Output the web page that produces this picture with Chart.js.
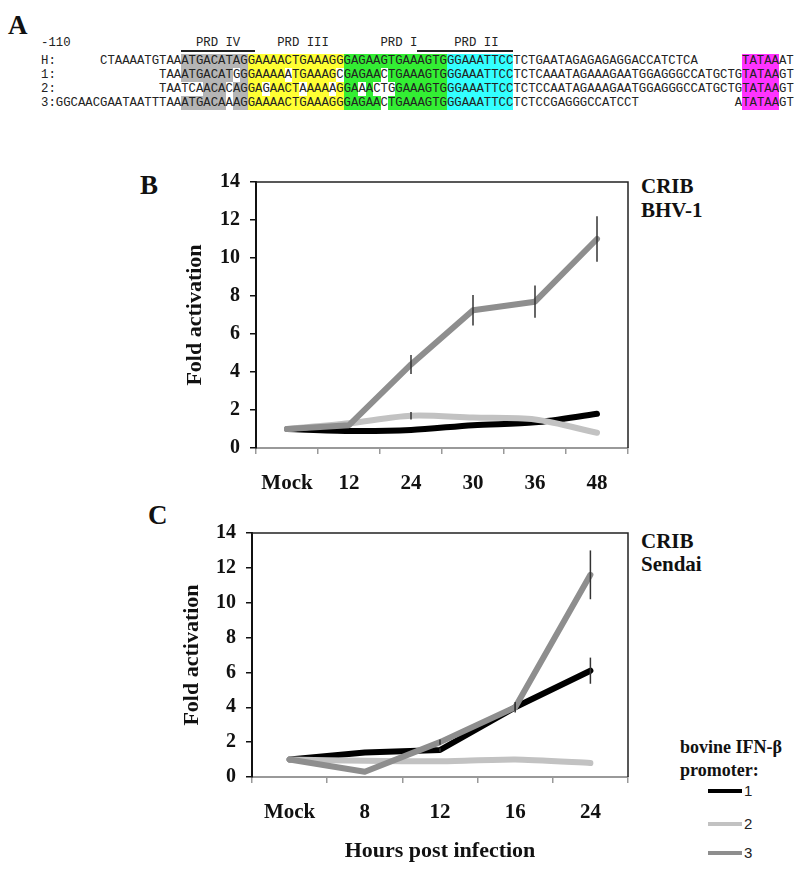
<!DOCTYPE html>
<html>
<head>
<meta charset="utf-8">
<script src="https://cdn.jsdelivr.net/npm/chart.js@4.4.1/dist/chart.umd.min.js"></script>
<style>
body { margin: 0; background: #fff; width: 800px; height: 870px; position: relative; overflow: hidden; }
canvas { position: absolute; }
.lbl { position: absolute; font-family: "Liberation Serif"; font-weight: bold; color: #111; white-space: nowrap; line-height: 1; }
.seq { position: absolute; left: 41px; height: 14px; line-height: 14px; white-space: pre; font-family: "Liberation Mono"; font-size: 12.3px; color: #222; }
.seq span { display: inline-block; height: 14px; }
.rule { position: absolute; height: 1.5px; background: #222; }
.key { position: absolute; left: 708px; width: 34px; height: 4px; }
.keytxt { position: absolute; left: 744px; font-family: "Liberation Sans"; font-size: 15px; color: #222; line-height: 1; }
</style>
</head>
<body>
<div class="lbl" style="left:8px;top:12px;font-size:27px;">A</div>
<div id="seqbox"></div>

<div class="lbl" style="left:140px;top:172px;font-size:27px;">B</div>
<div class="lbl" style="left:641px;top:176px;font-size:21px;">CRIB</div>
<div class="lbl" style="left:641px;top:200px;font-size:21px;">BHV-1</div>
<canvas id="chartB" width="500" height="338" style="left:150px;top:160px;"></canvas>

<div class="lbl" style="left:148px;top:502px;font-size:27px;">C</div>
<div class="lbl" style="left:641px;top:531px;font-size:21px;">CRIB</div>
<div class="lbl" style="left:641px;top:554px;font-size:21px;">Sendai</div>
<canvas id="chartC" width="500" height="356" style="left:150px;top:511px;"></canvas>

<div class="lbl" style="left:680px;top:738px;font-size:18px;">bovine IFN-β</div>
<div class="lbl" style="left:680px;top:761px;font-size:18px;">promoter:</div>
<div id="legend"></div>

<script>
// sequence alignment (panel A)
const seqHeader = [['-110', 0], ['PRD IV', 21], ['PRD III', 32], ['PRD I', 46], ['PRD II', 56]];
const seqRows = [
  [['H:', 0], ['CTAAAATGTAAATGACATAGGAAAACTGAAAGGGAGAAGTGAAAGTGGGAAATTCCTCTGAATAGAGAGAGGACCATCTCA', 8], ['TATAAAT', 95]],
  [['1:', 0], ['TAAATGACATGGGAAAAATGAAAGCGAGAACTGAAAGTGGGAAATTCCTCTCAAATAGAAAGAATGGAGGGCCATGCTGTATAAGT', 16]],
  [['2:', 0], ['TAATCAACACAGGAGAACTAAAAAGGAAACTGGAAAGTGGGAAATTCCTCTCCAATAGAAAGAATGGAGGGCCATGCTGTATAAGT', 16]],
  [['3:GGCAACGAATAATTTAAATGACAAAGGAAAACTGAAAGGGAGAACTGAAAGTGGGAAATTCCTCTCCGAGGGCCATCCT', 0], ['ATATAAGT', 94]]
];
const seqBoxes = [[19, 27, '#b5b5b5'], [28, 40, '#ffff33'], [41, 54, '#33ee33'], [55, 63, '#33ffff'], [95, 99, '#ff33ff']];

// panel B: CRIB cells, BHV-1
const bLabels = ['Mock', '12', '24', '30', '36', '48'];
const bProm1 = [1.0, 0.9, 0.95, 1.2, 1.35, 1.8];
const bProm2 = [1.0, 1.3, 1.7, 1.6, 1.5, 0.8];
const bProm3 = [1.0, 1.2, 4.4, 7.25, 7.7, 11.0];
const bErr2 = [0, 0, 0.2, 0, 0, 0];
const bErr3 = [0, 0, 0.5, 0.8, 0.85, 1.2];

// panel C: CRIB cells, Sendai
const cLabels = ['Mock', '8', '12', '16', '24'];
const cProm1 = [1.0, 1.4, 1.55, 4.0, 6.1];
const cProm2 = [1.0, 0.93, 0.9, 1.0, 0.8];
const cProm3 = [1.0, 0.3, 2.0, 4.0, 11.6];
const cErr1 = [0, 0, 0.1, 0.3, 0.75];
const cErr3 = [0, 0, 0.15, 0.2, 1.4];

const yTicks = [0, 2, 4, 6, 8, 10, 12, 14];
const promNames = ['1', '2', '3'];
const promColors = ['#000000', '#c2c2c2', '#8e8e8e'];

// build panel A
const W = 7.38;
function rowChars(parts) {
  const arr = [];
  parts.forEach(([s, c]) => { for (let i = 0; i < s.length; i++) arr[c + i] = s[i]; });
  for (let i = 0; i < arr.length; i++) if (!arr[i]) arr[i] = ' ';
  return arr;
}
const box = document.getElementById('seqbox');
const hdr = document.createElement('div');
hdr.className = 'seq';
hdr.style.top = '36px';
hdr.textContent = rowChars(seqHeader).join('');
box.appendChild(hdr);
[[19, 29], [51, 64]].forEach(([a, b]) => {
  const r = document.createElement('div');
  r.className = 'rule';
  r.style.left = (41 + a * W) + 'px';
  r.style.width = ((b - a) * W) + 'px';
  r.style.top = '50px';
  box.appendChild(r);
});
const refRow = rowChars(seqRows[0]);
seqRows.forEach((parts, ri) => {
  const chars = rowChars(parts);
  const div = document.createElement('div');
  div.className = 'seq';
  div.style.top = (54 + ri * 14) + 'px';
  let cur = null, span = null;
  chars.forEach((ch, c) => {
    let bg = '';
    seqBoxes.forEach(([a, b, col]) => { if (c >= a && c <= b && ch === refRow[c]) bg = col; });
    if (bg !== cur || !span) {
      span = document.createElement('span');
      if (bg) span.style.background = bg;
      div.appendChild(span);
      cur = bg;
    }
    span.textContent += ch;
  });
  box.appendChild(div);
});

// legend
const leg = document.getElementById('legend');
[791, 824, 853].forEach((y, i) => {
  const k = document.createElement('div');
  k.className = 'key';
  k.style.top = (y - 2) + 'px';
  k.style.background = promColors[i];
  leg.appendChild(k);
  const t = document.createElement('div');
  t.className = 'keytxt';
  t.style.top = (y - 8) + 'px';
  t.textContent = promNames[i];
  leg.appendChild(t);
});

// box top + right
const frame = {
  id: 'frame',
  afterDraw(chart) {
    const {ctx, chartArea: a} = chart;
    ctx.save();
    ctx.strokeStyle = '#222';
    ctx.lineWidth = 1.5;
    ctx.beginPath();
    ctx.moveTo(a.left, a.top);
    ctx.lineTo(a.right, a.top);
    ctx.lineTo(a.right, a.bottom);
    ctx.stroke();
    ctx.restore();
  }
};

const errorBars = {
  id: 'errorBars',
  afterDatasetsDraw(chart) {
    const {ctx, scales: {x, y}} = chart;
    ctx.save();
    ctx.strokeStyle = '#333';
    ctx.lineWidth = 1.5;
    chart.data.datasets.forEach(ds => {
      if (!ds.err) return;
      ds.err.forEach((e, j) => {
        if (!e) return;
        const px = x.getPixelForValue(j);
        ctx.beginPath();
        ctx.moveTo(px, y.getPixelForValue(ds.data[j] - e));
        ctx.lineTo(px, y.getPixelForValue(ds.data[j] + e));
        ctx.stroke();
      });
    });
    ctx.restore();
  }
};

const serif = s => ({family: 'Liberation Serif', size: s, weight: 'bold'});

function line(data, i, tension, err) {
  return {
    label: promNames[i], data: data, err: err,
    borderColor: promColors[i], backgroundColor: promColors[i],
    borderWidth: 6, borderCapStyle: 'round', borderJoinStyle: 'round',
    pointRadius: 0, tension: tension, fill: false, order: 3 - i
  };
}

function makeChart(id, labels, datasets, yw, xh, yTitlePad, xTitle) {
  return new Chart(document.getElementById(id), {
    type: 'line',
    data: {labels: labels, datasets: datasets},
    options: {
      responsive: false,
      animation: false,
      layout: {padding: {top: 20, right: 22, left: 0, bottom: 0}},
      plugins: {legend: {display: false}, tooltip: {enabled: false}},
      scales: {
        x: {
          offset: true,
          grid: {offset: true, drawOnChartArea: false, tickLength: 6, color: '#999', lineWidth: 1.5},
          border: {color: '#999', width: 2},
          ticks: {padding: 17, color: '#111', font: serif(21), maxRotation: 0},
          title: {display: !!xTitle, text: xTitle || '', color: '#111', font: serif(22), padding: {top: 0, bottom: 2}},
          afterFit: s => { s.height = xh; }
        },
        y: {
          min: 0, max: 14,
          afterBuildTicks: s => { s.ticks = yTicks.map(v => ({value: v})); },
          grid: {drawOnChartArea: false, tickLength: 6, color: '#111', lineWidth: 1.5},
          border: {color: '#111', width: 2},
          ticks: {padding: 10, color: '#111', font: serif(20)},
          title: {display: true, text: 'Fold activation', color: '#111', font: serif(22), padding: {top: yTitlePad, bottom: 0}},
          afterFit: s => { s.width = yw; }
        }
      }
    },
    plugins: [errorBars, frame]
  });
}

makeChart('chartB', bLabels, [
  line(bProm1, 0, 0.3),
  line(bProm2, 1, 0.3, bErr2),
  line(bProm3, 2, 0, bErr3)
], 106, 50, 32, null);

makeChart('chartC', cLabels, [
  line(cProm1, 0, 0, cErr1),
  line(cProm2, 1, 0.2),
  line(cProm3, 2, 0, cErr3)
], 102, 90, 29, 'Hours post infection');
</script>
</body>
</html>
